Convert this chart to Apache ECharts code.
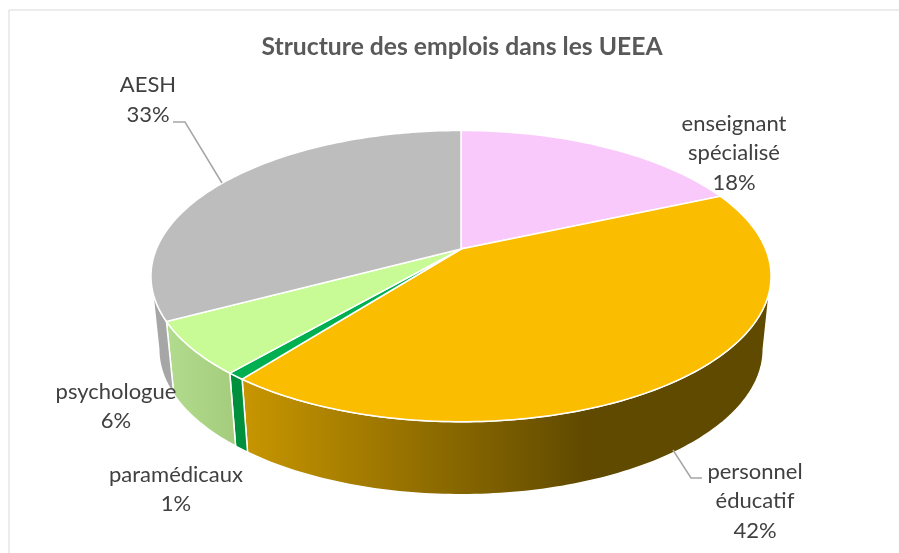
<!DOCTYPE html>
<html><head><meta charset="utf-8">
<style>html,body{margin:0;padding:0;background:#fff}#c{width:899px;height:553px}</style>
<script src="https://cdn.jsdelivr.net/npm/echarts@6/dist/echarts.min.js"></script>
</head><body><div id="c"></div>
<script>
const categories = ['enseignant\nspécialisé', 'personnel\néducatif', 'paramédicaux', 'psychologue', 'AESH'];
const shares = [18.4, 42.1, 0.8, 5.9, 32.8];
const chartTitle = 'Structure des emplois dans les UEEA';

const topColors = ['#FAC9FB', '#FBBD00', '#00AF50', '#C8FB96', '#BDBDBD'];
const sideLeft = ['#C08F00', '#C89600', '#008F3C', '#B2DC8E', '#A6A6A6'];
const sideRight = ['#C08F00', '#604A00', '#008F3C', '#A4CC7C', '#A6A6A6'];
const labelCentres = [[734, 153], [755, 501], [176, 489.5], [116, 406.5], [148, 100]];
const leaders = [
  [[173, 122], [185, 122], [222, 183]],
  [[673, 450], [691, 478], [702, 478]]
];

const CX = 461, APEX = 249, K = 304.6, A = 94.2, C = -0.1862;
const DEPTH = 73, SHRINK = 0.975;
function topPoint(f) {
  const t = f * 2 * Math.PI, u = Math.sin(t), v = -Math.cos(t), d = 1 + C * v;
  return [CX + K * u / d, (A * v + APEX) / d];
}
function bottomPoint(f) {
  const p = topPoint(f);
  return [CX + (p[0] - CX) * SHRINK, p[1] + DEPTH];
}
const total = shares.reduce((a, b) => a + b, 0);
const SIDE_START = 0.28, SIDE_END = 0.72;

function renderItem(params, api) {
  const i = params.dataIndex;
  let before = 0;
  for (let k = 0; k < i; k++) before += shares[k];
  const from = before / total, to = (before + api.value(0)) / total;
  const children = [];
  const steps = Math.max(2, Math.ceil((to - from) * 360));
  const top = [[CX, APEX]];
  for (let s = 0; s <= steps; s++) top.push(topPoint(from + (to - from) * s / steps));
  const a = Math.max(from, SIDE_START), b = Math.min(to, SIDE_END);
  if (b > a) {
    const n = Math.max(2, Math.ceil((b - a) * 360)), edge = [], low = [];
    for (let s = 0; s <= n; s++) {
      const f = a + (b - a) * s / n;
      edge.push(topPoint(f));
      low.unshift(bottomPoint(f));
    }
    children.push({
      type: 'polygon', z2: 1,
      shape: { points: edge.concat(low) },
      style: {
        fill: new echarts.graphic.LinearGradient(1, 0, 0, 0, [
          { offset: 0, color: sideRight[i] },
          { offset: i === 1 ? 0.35 : 0, color: sideRight[i] },
          { offset: 1, color: sideLeft[i] }
        ]),
        stroke: '#fff', lineWidth: 1.5
      }
    });
  }
  children.push({
    type: 'polygon', z2: 5,
    shape: { points: top },
    style: { fill: topColors[i], stroke: '#fff', lineWidth: 1.5 }
  });
  children.push({
    type: 'text', z2: 10,
    style: {
      text: categories[i] + '\n' + Math.round(api.value(0)) + '%',
      x: labelCentres[i][0], y: labelCentres[i][1],
      align: 'center', verticalAlign: 'middle',
      fill: '#404040', fontFamily: 'Lato', fontSize: 22, lineHeight: 29.5
    }
  });
  return { type: 'group', children };
}

const chart = echarts.init(document.getElementById('c'), null, { renderer: 'canvas' });
chart.setOption({
  animation: false,
  backgroundColor: '#fff',
  title: {
    text: chartTitle, left: 457, top: 30, textAlign: 'center',
    textStyle: { fontFamily: 'Lato', fontWeight: 'bold', fontSize: 24.7, color: '#595959' }
  },
  series: [{
    type: 'custom', coordinateSystem: 'none', renderItem,
    data: shares.map(v => [v]), silent: true
  }],
  graphic: [
    { type: 'polyline', shape: { points: [[899, 10], [9, 10], [9, 553]] }, style: { stroke: '#D9D9D9', lineWidth: 1, fill: 'none' }, silent: true }
  ].concat(leaders.map(p => ({
    type: 'polyline', shape: { points: p }, style: { stroke: '#A6A6A6', lineWidth: 1.5, fill: 'none' }, silent: true, z: 20
  })))
});
</script></body></html>
